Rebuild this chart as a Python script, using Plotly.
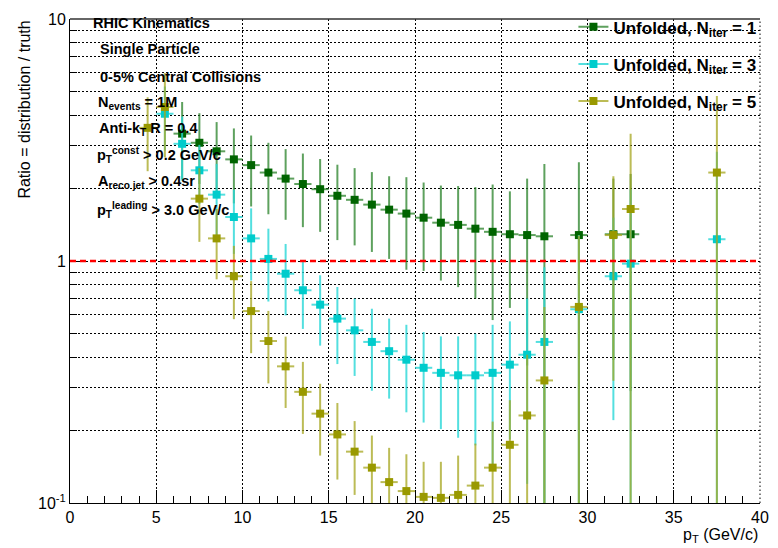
import plotly.graph_objects as go

# ---------------- data ----------------
x_n1 = [6.5, 7.5, 8.5, 9.5, 10.5, 11.5, 12.5, 13.5, 14.5, 15.5, 16.5, 17.5, 18.5, 19.5,
        20.5, 21.5, 22.5, 23.5, 24.5, 25.5, 26.5, 27.5, 29.5, 31.5, 32.5]
y_n1 = [3.36, 3.08, 2.84, 2.63, 2.49, 2.32, 2.19, 2.08, 1.98, 1.86, 1.79, 1.71, 1.63, 1.57,
        1.51, 1.44, 1.41, 1.36, 1.32, 1.29, 1.28, 1.265, 1.28, 1.29, 1.29]
e_n1 = [1.18, 1.0, 0.91, 0.90, 0.81, 0.76, 0.71, 0.70, 0.66, 0.64, 0.63, 0.62, 0.61, 0.65,
        0.60, 0.61, 0.63, 0.66, 0.75, 0.65, 0.91, 1.25, 1.28, 0.9, 1.0]

x_n3 = [5.5, 6.5, 7.5, 8.5, 9.5, 10.5, 11.5, 12.5, 13.5, 14.5, 15.5, 16.5, 17.5, 18.5, 19.5,
        20.5, 21.5, 22.5, 23.5, 24.5, 25.5, 26.5, 27.5, 29.5, 31.5, 32.5, 37.5]
y_n3 = [4.06, 3.05, 2.37, 1.88, 1.52, 1.24, 1.02, 0.886, 0.757, 0.66, 0.578, 0.517, 0.463,
        0.424, 0.391, 0.362, 0.345, 0.337, 0.337, 0.345, 0.373, 0.410, 0.463, 0.632, 0.865,
        0.975, 1.23]
e_n3 = [1.2, 0.9, 0.65, 0.64, 0.45, 0.41, 0.34, 0.29, 0.233, 0.213, 0.203, 0.182, 0.172,
        0.154, 0.154, 0.147, 0.143, 0.151, 0.164, 0.20, 0.19, 0.29, 0.48, 0.65, 0.645,
        1.0, 1.6]

x_n5 = [4.5, 5.5, 7.5, 8.5, 9.5, 10.5, 11.5, 12.5, 13.5, 14.5, 15.5, 16.5, 17.5, 18.5, 19.5,
        20.5, 21.5, 22.5, 23.5, 24.5, 25.5, 26.5, 27.5, 29.5, 31.5, 32.5, 37.5]
y_n5 = [3.55, 4.33, 1.81, 1.24, 0.865, 0.621, 0.467, 0.367, 0.288, 0.234, 0.192, 0.163,
        0.140, 0.122, 0.112, 0.106, 0.105, 0.108, 0.118, 0.140, 0.174, 0.230, 0.321, 0.646,
        1.28, 1.64, 2.32]
e_n5 = [1.2, 1.65, 0.61, 0.40, 0.29, 0.205, 0.155, 0.12, 0.095, 0.077, 0.067, 0.055, 0.050,
        0.047, 0.047, 0.042, 0.043, 0.049, 0.058, 0.077, 0.092, 0.18, 0.325, 0.63, 0.96,
        1.72, 2.49]

bin_half_width = 0.5

series = [
    ("Unfolded, N<sub>iter</sub> = 1", x_n1, y_n1, e_n1, "#006400", "rgba(40,130,40,0.75)"),
    ("Unfolded, N<sub>iter</sub> = 3", x_n3, y_n3, e_n3, "#00cccc", "rgba(40,215,215,0.8)"),
    ("Unfolded, N<sub>iter</sub> = 5", x_n5, y_n5, e_n5, "#999900", "rgba(165,165,30,0.75)"),
]

info_lines = [
    ("<b>RHIC Kinematics</b>", 91, 21),
    ("<b>Single Particle</b>", 98, 47),
    ("<b>0-5% Central Collisions</b>", 98, 75),
    ("<b>N<sub>events</sub> = 1M</b>", 96, 101),
    ("<b>Anti-k<sub>T</sub> R = 0.4</b>", 97, 127),
    ("<b>p<sub>T</sub><sup>const</sup> &gt; 0.2 GeV/c</b>", 95, 154),
    ("<b>A<sub>reco jet</sub> &gt; 0.4sr</b>", 96, 181),
    ("<b>p<sub>T</sub><sup>leading</sup> &gt; 3.0 GeV/c</b>", 95, 209),
]

FONT = "Liberation Sans, Arial, Helvetica, sans-serif"
W, H = 778, 548
L, R, T, B = 70, 9, 17, 45
PW, PH = W - L - R, H - T - B
GRID = "#000000"
GRID_DASH = "1.5px,2.5px"

fig = go.Figure()

for i, (name, xs, ys, es, mcol, ecol) in enumerate(series):
    fig.add_trace(go.Scatter(
        x=xs, y=ys, mode="markers", showlegend=False,
        marker=dict(symbol="square", size=8, color=mcol, line=dict(width=0)),
        error_y=dict(type="data", array=es, symmetric=True, color=ecol, thickness=2, width=0),
        error_x=dict(type="constant", value=bin_half_width, color=ecol, thickness=2, width=0),
        cliponaxis=True,
    ))
    fig.add_trace(go.Scatter(
        x=[None], y=[None], mode="lines+markers", name=name, legendgroup=f"g{i}",
        marker=dict(symbol="square", size=8, color=mcol),
        line=dict(color=ecol, width=2),
    ))

fig.add_hline(y=1, line=dict(color="#ff0000", width=2.5, dash="6px,4px"))

for txt, px, py in info_lines:
    fig.add_annotation(
        text=txt, xref="paper", yref="paper",
        x=(px - L) / PW, y=1 - (py - T) / PH, xanchor="left", yanchor="middle",
        showarrow=False, font=dict(family=FONT, size=14.5, color="black"),
    )

# axis titles
fig.add_annotation(
    text="Ratio = distribution / truth", xref="paper", yref="paper",
    x=-(L - 23) / PW, y=1.0, xanchor="center", yanchor="top", textangle=-90,
    showarrow=False, font=dict(family=FONT, size=16, color="black"),
)
fig.add_annotation(
    text="p<sub>T</sub> (GeV/c)", xref="paper", yref="paper",
    x=1.0, y=-(536 - T - PH) / PH, xanchor="right", yanchor="middle",
    showarrow=False, font=dict(family=FONT, size=16, color="black"),
)

# right frame edge (dotted)
fig.add_shape(type="line", xref="paper", yref="paper", x0=1, x1=1, y0=0, y1=1,
              line=dict(color=GRID, width=1, dash=GRID_DASH))

fig.update_xaxes(
    range=[0, 40], tickvals=[0, 5, 10, 15, 20, 25, 30, 35, 40],
    ticks="inside", ticklen=13, tickwidth=1, tickcolor="black",
    showline=True, linecolor="black", linewidth=1, mirror=False,
    showgrid=True, gridcolor=GRID, griddash=GRID_DASH, gridwidth=1,
    minor=dict(dtick=1, ticks="inside", ticklen=7, tickcolor="black", showgrid=False),
    tickfont=dict(family=FONT, size=16, color="black"),
    zeroline=False,
)
fig.update_yaxes(
    type="log", range=[-1, 1],
    tickvals=[0.1, 1, 10], ticktext=["10<sup>-1</sup>", "1", "10"],
    ticks="inside", ticklen=13, tickwidth=1, tickcolor="black",
    showline=True, linecolor="black", linewidth=1, mirror=False,
    showgrid=True, gridcolor=GRID, griddash=GRID_DASH, gridwidth=1,
    minor=dict(tickvals=[0.2, 0.3, 0.4, 0.5, 0.6, 0.7, 0.8, 0.9, 2, 3, 4, 5, 6, 7, 8, 9],
               ticks="inside", ticklen=7, tickcolor="black",
               showgrid=True, gridcolor=GRID, griddash=GRID_DASH, gridwidth=1),
    tickfont=dict(family=FONT, size=16, color="black"),
    zeroline=False,
)
fig.add_shape(type="line", xref="paper", yref="paper", x0=0, x1=1, y0=1, y1=1,
              line=dict(color="#333333", width=1.5))

fig.update_layout(
    width=W, height=H,
    margin=dict(l=L, r=R, t=T, b=B, pad=0),
    paper_bgcolor="white", plot_bgcolor="white",
    font=dict(family=FONT, color="black"),
    legend=dict(x=(580 - L) / PW, y=1.02, xanchor="left", yanchor="top",
                bgcolor="rgba(0,0,0,0)", borderwidth=0, tracegroupgap=12,
                font=dict(family=FONT, size=17, color="black", weight="bold"),
                itemwidth=30),
    showlegend=True,
)

fig.write_html("out.html")
